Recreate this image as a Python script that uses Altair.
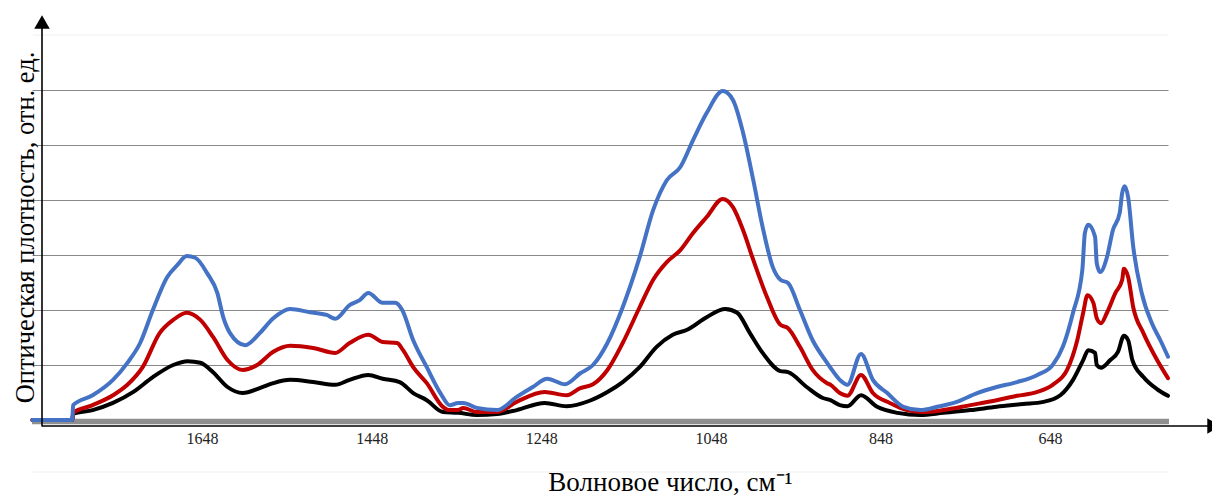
import altair as alt
import pandas as pd

# IR absorbance spectra, three samples (wavenumber in cm^-1, absorbance in relative units)
wn_blue = [1848, 1801, 1800, 1777, 1753, 1736, 1721, 1706, 1689, 1677, 1666, 1656, 1642, 1630,
           1623, 1615, 1597, 1580, 1564, 1544, 1521, 1501, 1491, 1474, 1462, 1452, 1435, 1420,
           1412, 1399, 1383, 1367, 1356, 1346, 1340, 1324, 1300, 1277, 1258, 1241, 1220, 1202,
           1187, 1170, 1152, 1132, 1116, 1100, 1084, 1069, 1053, 1034, 1022, 1010, 998, 987,
           975, 966, 957, 943, 928, 911, 907, 896, 887, 871, 857, 840, 821, 801, 781, 758, 734,
           711, 687, 663, 645, 633, 621, 610, 607, 603, 595, 593, 589, 581, 574, 566, 563, 560,
           556, 550, 540, 528, 518, 509]
abs_blue = [0, 0, 0.27, 0.45, 0.73, 1.04, 1.40, 2.00, 2.60, 2.82, 2.98, 2.95, 2.67, 2.31,
            1.87, 1.58, 1.36, 1.58, 1.85, 2.02, 1.96, 1.91, 1.84, 2.09, 2.18, 2.31, 2.13, 2.13,
            2.00, 1.45, 0.96, 0.49, 0.27, 0.31, 0.31, 0.22, 0.18, 0.42, 0.60, 0.75, 0.65, 0.85,
            1.00, 1.40, 2.05, 2.96, 3.82, 4.36, 4.60, 5.09, 5.58, 5.98, 5.82, 5.22, 4.36, 3.51,
            2.78, 2.55, 2.49, 2.00, 1.45, 1.04, 0.95, 0.73, 0.64, 1.20, 0.73, 0.49, 0.24, 0.18,
            0.24, 0.33, 0.49, 0.60, 0.69, 0.82, 1.00, 1.33, 1.95, 2.73, 3.40, 3.55, 3.33, 2.85,
            2.69, 2.96, 3.45, 3.76, 4.13, 4.25, 4.05, 3.15, 2.31, 1.76, 1.45, 1.15]

wn_red = [1848, 1801, 1800, 1777, 1753, 1736, 1718, 1698, 1682, 1666, 1650, 1635, 1618, 1600,
          1583, 1564, 1544, 1517, 1491, 1474, 1452, 1435, 1418, 1411, 1399, 1383, 1364, 1356,
          1346, 1340, 1324, 1300, 1277, 1244, 1218, 1202, 1187, 1170, 1152, 1132, 1116, 1100,
          1084, 1069, 1053, 1034, 1022, 1010, 998, 982, 966, 957, 943, 928, 911, 907, 896, 887,
          871, 857, 837, 817, 798, 774, 742, 711, 687, 663, 645, 628, 616, 609, 604, 597, 593,
          588, 581, 571, 563, 561, 556, 550, 538, 524, 509]
abs_red = [0, 0, 0.13, 0.27, 0.45, 0.64, 0.96, 1.58, 1.82, 1.95, 1.82, 1.51, 1.09, 0.91,
           1.00, 1.24, 1.35, 1.31, 1.22, 1.40, 1.55, 1.42, 1.40, 1.27, 0.96, 0.67, 0.24, 0.18,
           0.18, 0.22, 0.145, 0.145, 0.33, 0.51, 0.45, 0.58, 0.65, 0.91, 1.40, 2.05, 2.55, 2.87,
           3.09, 3.40, 3.69, 4.02, 3.87, 3.45, 2.91, 2.24, 1.73, 1.67, 1.33, 0.91, 0.67, 0.64,
           0.49, 0.44, 0.82, 0.49, 0.31, 0.18, 0.145, 0.18, 0.27, 0.36, 0.44, 0.51, 0.64, 0.91,
           1.45, 1.95, 2.27, 2.13, 1.85, 1.76, 1.95, 2.31, 2.55, 2.75, 2.60, 2.05, 1.58, 1.15, 0.76]

wn_black = [1848, 1801, 1800, 1777, 1753, 1729, 1706, 1682, 1665, 1650, 1635, 1618, 1600, 1580,
            1564, 1544, 1517, 1491, 1474, 1452, 1435, 1415, 1399, 1383, 1364, 1346, 1324, 1300,
            1277, 1244, 1218, 1191, 1170, 1152, 1132, 1112, 1093, 1076, 1053, 1031, 1017, 1002,
            987, 966, 957, 935, 916, 907, 896, 887, 871, 852, 828, 801, 774, 742, 711, 680, 656,
            636, 621, 609, 603, 595, 593, 588, 577, 568, 561, 556, 551, 538, 521, 509]
abs_black = [0, 0, 0.11, 0.18, 0.31, 0.51, 0.78, 1.00, 1.07, 1.04, 0.87, 0.60, 0.49, 0.58,
             0.67, 0.73, 0.69, 0.64, 0.73, 0.82, 0.75, 0.69, 0.49, 0.36, 0.145, 0.13, 0.09, 0.11,
             0.18, 0.31, 0.25, 0.35, 0.51, 0.69, 0.96, 1.33, 1.55, 1.64, 1.87, 2.02, 1.95, 1.58,
             1.22, 0.89, 0.87, 0.60, 0.40, 0.36, 0.27, 0.25, 0.45, 0.24, 0.13, 0.09, 0.13, 0.18,
             0.24, 0.29, 0.33, 0.45, 0.73, 1.09, 1.27, 1.22, 1.00, 0.95, 1.09, 1.24, 1.53, 1.45,
             1.09, 0.78, 0.55, 0.44]

x_ticks = [1648, 1448, 1248, 1048, 848, 648]
y_grid = [1, 2, 3, 4, 5, 6]

SERIF = "Liberation Serif"
W, H = 1136, 385

x_scale = alt.Scale(domain=[509, 1848.5], reverse=True, nice=False, zero=False)
y_scale = alt.Scale(domain=[0, 7], nice=False, zero=True)

x_axis = alt.Axis(
    values=x_ticks, format="d", title="Волновое число, см⁻¹",
    labelFont=SERIF, labelFontSize=16, labelColor="#222222",
    labelBaseline="alphabetic", labelPadding=23,
    ticks=False, tickSize=0, domain=False, grid=False,
    titleFont=SERIF, titleFontSize=27, titleFontWeight="normal", titleColor="#000000",
    titleX=638, titleY=70, titleAlign="center", titleBaseline="alphabetic",
)
y_axis = alt.Axis(
    values=y_grid, labels=False, ticks=False, tickSize=0, domain=False,
    grid=True, gridColor="#888888", gridWidth=1.2,
    title="Оптическая плотность, отн. ед.",
    titleFont=SERIF, titleFontSize=26.5, titleFontWeight="normal", titleColor="#000000",
    titleAngle=270, titleX=1, titleY=192, titleAlign="center", titleBaseline="alphabetic",
)

X_ENC = alt.X("wn:Q", scale=x_scale, axis=x_axis)
Y_ENC = alt.Y("a:Q", scale=y_scale, axis=y_axis)


def spectrum(wn, ab, color):
    df = pd.DataFrame({"wn": wn, "a": ab})
    return alt.Chart(df).mark_line(
        color=color, strokeWidth=4, interpolate="monotone", clip=False,
        strokeJoin="round", strokeCap="round",
    ).encode(
        x=X_ENC,
        y=Y_ENC,
        order=alt.Order("wn:Q", sort="descending"),
    )


# thick grey zero line under the spectra
zero_df = pd.DataFrame({"a": [0]})
zero_line = alt.Chart(zero_df).mark_rule(color="#8f8f8f", strokeWidth=5.5, yOffset=1.5).encode(
    y=Y_ENC, x=alt.value(0), x2=alt.value(W + 1),
)

# faint frame lines of the plot region
top_df = pd.DataFrame({"a": [7]})
top_line = alt.Chart(top_df).mark_rule(color="#f0f0f0", strokeWidth=1).encode(
    y=Y_ENC, x=alt.value(1), x2=alt.value(W),
)
bottom_line = alt.Chart(top_df).mark_rule(color="#f0f0f0", strokeWidth=1).encode(
    y=alt.value(437), x=alt.value(1), x2=alt.value(W),
)

# arrowed coordinate axes
y_arrow_line = alt.Chart(top_df).mark_rule(color="#000000", strokeWidth=1.6).encode(
    x=alt.value(10), y=alt.value(-8), y2=alt.value(391.5),
)
x_arrow_line = alt.Chart(top_df).mark_rule(color="#000000", strokeWidth=1.6).encode(
    x=alt.value(10), x2=alt.value(1176), y=alt.value(391),
)
y_arrow_head = alt.Chart(top_df).mark_point(
    shape="triangle-up", size=240, filled=True, color="#000000", opacity=1, strokeWidth=0
).encode(x=alt.value(10), y=alt.value(-13))
x_arrow_head = alt.Chart(top_df).mark_point(
    shape="triangle-right", size=240, filled=True, color="#000000", opacity=1, strokeWidth=0
).encode(x=alt.value(1182), y=alt.value(391))

chart = alt.layer(
    top_line,
    bottom_line,
    zero_line,
    spectrum(wn_black, abs_black, "#000000"),
    spectrum(wn_red, abs_red, "#c00000"),
    spectrum(wn_blue, abs_blue, "#4472c4"),
    y_arrow_line,
    x_arrow_line,
    y_arrow_head,
    x_arrow_head,
).properties(
    width=W, height=H,
    autosize=alt.AutoSizeParams(type="none"),
    padding={"left": 32, "top": 35, "right": 44, "bottom": 77},
    background="#ffffff",
).configure_view(stroke=None)

chart.save("out.html", embed_options={"renderer": "svg", "actions": False})
